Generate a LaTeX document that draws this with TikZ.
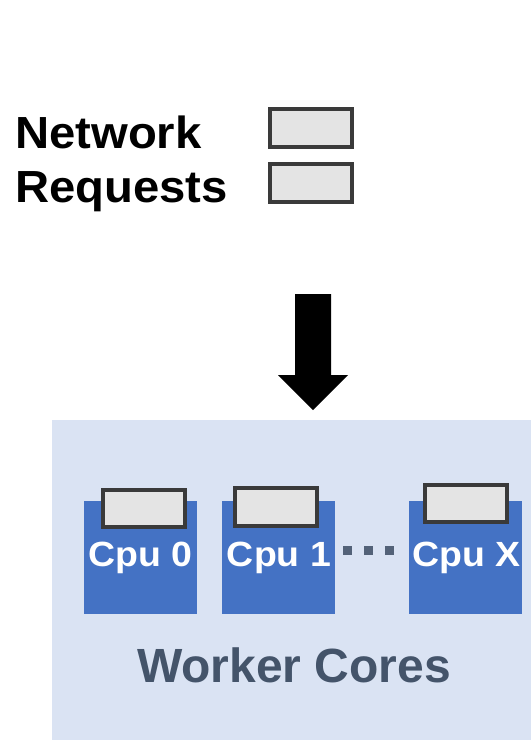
\documentclass[tikz,border=0pt]{standalone}
\usepackage{fontspec}
\setmainfont{Liberation Sans}
\newfontfamily\headsans{Liberation Sans}[FakeStretch=1.05]
\newfontfamily\coresans{Liberation Sans}[FakeStretch=1.07]
\definecolor{panelblue}{HTML}{DAE3F3}
\definecolor{cpublue}{HTML}{4472C4}
\definecolor{slate}{HTML}{44546A}
\definecolor{queuegray}{HTML}{E4E4E4}
\definecolor{queueedge}{HTML}{3A3A3A}
\tikzset{
  queue/.style={draw=queueedge, fill=queuegray, line width=3.6pt,
    minimum width=82pt, minimum height=37.5pt, inner sep=0pt},
  core/.style={fill=cpublue, minimum width=113pt, minimum height=113pt, inner sep=0pt},
  corelabel/.style={text=white, font=\coresans\bfseries\fontsize{35}{40}\selectfont, inner sep=0pt, anchor=base},
  bigtext/.style={font=\headsans\bfseries\fontsize{45}{54}\selectfont, inner sep=0pt, anchor=base west},
  dot/.style={fill=slate!90!panelblue, minimum size=9pt, inner sep=0pt}
}
\begin{document}
\begin{tikzpicture}[x=1pt,y=-1pt]
\useasboundingbox (0,0) rectangle (531,740);
% incoming requests
\node[bigtext] (net) at (15,148) {Network};
\node[bigtext] (req) at (15,202) {Requests};
\node[queue] (q1) at (311,128) {};
\node[queue] (q2) at (311,183) {};
% block arrow
\fill[black] (295,294) -- (331,294) -- (331,375) -- (348,375) -- (313,410)
  -- (278,375) -- (295,375) -- cycle;
% worker panel
\fill[panelblue] (52,420) rectangle (531,740);
\node[core] (c0) at (140.5,557.5) {};
\node[core] (c1) at (278.5,557.5) {};
\node[core] (cx) at (465.5,557.5) {};
\node[corelabel] (l0) at (140.5,566) {Cpu 0};
\node[corelabel] (l1) at (279,566) {Cpu 1};
\node[corelabel] (lx) at (466.5,566) {Cpu X};
\node[queue] (cq0) at (144,508.5) {};
\node[queue] (cq1) at (276,507) {};
\node[queue] (cqx) at (466,503.5) {};
\node[dot] (d1) at (347,550) {};
\node[dot] (d2) at (368.5,550) {};
\node[dot] (d3) at (389.5,550) {};
\node[font=\bfseries\fontsize{48}{56}\selectfont, text=slate, inner sep=0pt, anchor=base] (wc) at (294,682) {Worker Cores};
\end{tikzpicture}
\end{document}
